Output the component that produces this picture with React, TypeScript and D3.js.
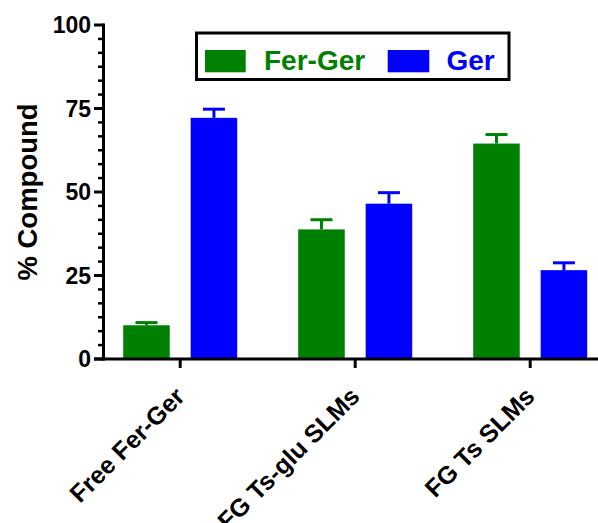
import React from "react";
import * as d3 from "d3";

const categories = ["Free Fer-Ger", "FG Ts-glu SLMs", "FG Ts SLMs"];
const seriesNames = ["Fer-Ger", "Ger"];
const ferGerValues = [10.1, 38.8, 64.5];
const ferGerErrors = [0.8, 2.9, 2.7];
const gerValues = [72.2, 46.5, 26.6];
const gerErrors = [2.6, 3.3, 2.2];
const yTicks = [0, 25, 50, 75, 100];
const colors = ["#008000", "#0000FF"];

const W = 598;
const H = 523;
const FONT = "Arial, 'Liberation Sans', Helvetica, sans-serif";

export default function App() {
  const y = d3.scaleLinear().domain([0, 100]).range([359, 25]);
  const x = d3.scaleBand().domain(categories).range([92.7, 617.7]).padding(0);
  const pairWidth = 114;
  const inner = d3
    .scaleBand()
    .domain(seriesNames)
    .range([-pairWidth / 2, pairWidth / 2])
    .paddingInner(0.31)
    .paddingOuter(0);

  const minorTicks = d3.range(0, 100.001, 25 / 6).filter((v) => Math.abs(v / 25 - Math.round(v / 25)) > 1e-6);

  const series = [
    { name: seriesNames[0], values: ferGerValues, errors: ferGerErrors, color: colors[0] },
    { name: seriesNames[1], values: gerValues, errors: gerErrors, color: colors[1] },
  ];

  const axisX = 103.5;
  const axisY = 359;

  return (
    <svg
      width={W}
      height={H}
      style={{ position: "absolute", left: 0, top: 0, background: "#fff" }}
      fontFamily={FONT}
    >
      {/* bars */}
      {categories.map((c, i) => {
        const cx = (x(c) as number) + x.bandwidth() / 2;
        return (
          <g key={c}>
            {series.map((s) => {
              const bx = cx + (inner(s.name) as number);
              const bw = inner.bandwidth();
              const top = y(s.values[i]);
              const errTop = y(s.values[i] + s.errors[i]);
              const mid = bx + bw / 2;
              return (
                <g key={s.name}>
                  <line x1={mid} x2={mid} y1={top} y2={errTop} stroke={s.color} strokeWidth={3} />
                  <line x1={mid - 11} x2={mid + 11} y1={errTop} y2={errTop} stroke={s.color} strokeWidth={3} />
                  <rect x={bx} y={top} width={bw} height={axisY - top} fill={s.color} />
                </g>
              );
            })}
          </g>
        );
      })}

      {/* y axis */}
      <line x1={axisX} x2={axisX} y1={y(100) - 1.5} y2={axisY + 1.5} stroke="#000" strokeWidth={3} />
      {yTicks.map((t) => (
        <g key={t}>
          <line x1={axisX - 9.5} x2={axisX} y1={y(t)} y2={y(t)} stroke="#000" strokeWidth={3} />
          <text
            x={91}
            y={y(t)}
            dy="0.36em"
            textAnchor="end"
            fontSize={23}
            fontWeight="bold"
            fill="#000"
          >
            {t}
          </text>
        </g>
      ))}
      {minorTicks.map((t) => (
        <line key={t} x1={axisX - 5.5} x2={axisX} y1={y(t)} y2={y(t)} stroke="#000" strokeWidth={2.5} />
      ))}

      {/* x axis */}
      <line x1={94} x2={W} y1={axisY} y2={axisY} stroke="#000" strokeWidth={3} />
      {categories.map((c) => {
        const cx = (x(c) as number) + x.bandwidth() / 2;
        return (
          <g key={c}>
            <line x1={cx} x2={cx} y1={axisY} y2={axisY + 9} stroke="#000" strokeWidth={3} />
            <text
              transform={`translate(${cx + 6},${398}) rotate(-45)`}
              textAnchor="end"
              fontSize={25}
              fontWeight="bold"
              fill="#000"
            >
              {c}
            </text>
          </g>
        );
      })}

      {/* y label */}
      <text
        transform={`translate(37,192) rotate(-90)`}
        textAnchor="middle"
        fontSize={27.5}
        fontWeight="bold"
        fill="#000"
      >
        % Compound
      </text>

      {/* legend */}
      <rect x={196.5} y={33} width={312.5} height={46.5} fill="#fff" stroke="#000" strokeWidth={3} />
      <rect x={205} y={50} width={40.7} height={22.3} fill={colors[0]} />
      <text x={264} y={70} fontSize={28} fontWeight="bold" fill={colors[0]}>
        {seriesNames[0]}
      </text>
      <rect x={387.7} y={50} width={41.6} height={22.3} fill={colors[1]} />
      <text x={446.5} y={70} fontSize={28} fontWeight="bold" fill={colors[1]}>
        {seriesNames[1]}
      </text>
    </svg>
  );
}
